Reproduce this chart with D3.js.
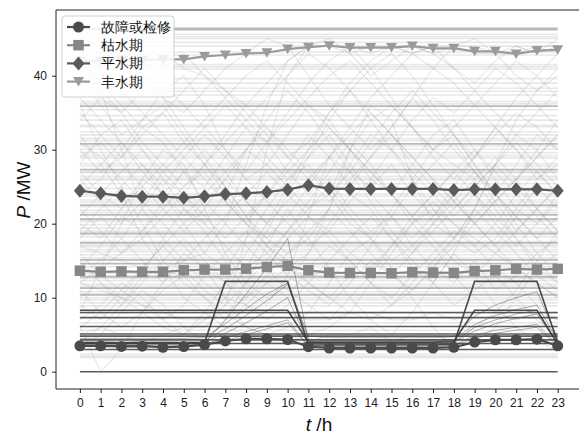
<!DOCTYPE html>
<html>
<head>
<meta charset="utf-8">
<script src="https://cdn.jsdelivr.net/npm/d3@7"></script>
<style>
  html, body { margin: 0; padding: 0; background: #fff; }
  svg { display: block; }
  text { font-family: "Liberation Sans", Arial, sans-serif; }
</style>
</head>
<body>
<svg id="chart" width="579" height="434"></svg>
<script>
// Hours of the day
const hours = d3.range(0, 24);
const xTicks = d3.range(0, 24);
const yTicks = [0, 10, 20, 30, 40];

// Typical daily output curves (MW)
const seriesNames = ["故障或检修", "枯水期", "平水期", "丰水期"];
const faultMean = [3.5, 3.5, 3.42, 3.45, 3.3, 3.4, 3.65, 4.15, 4.45, 4.45, 4.35, 3.38, 3.2, 3.2, 3.2, 3.2, 3.2, 3.2, 3.3, 4.0, 4.3, 4.3, 4.4, 3.5];
const dryMean = [13.65, 13.5, 13.55, 13.5, 13.5, 13.7, 13.8, 13.8, 13.9, 14.15, 14.3, 13.7, 13.4, 13.35, 13.35, 13.3, 13.45, 13.4, 13.35, 13.6, 13.7, 13.9, 13.8, 13.9];
const normalMean = [24.45, 24.1, 23.75, 23.65, 23.65, 23.5, 23.7, 24.0, 24.1, 24.3, 24.6, 25.2, 24.75, 24.7, 24.7, 24.7, 24.7, 24.7, 24.55, 24.65, 24.65, 24.65, 24.65, 24.45];
const wetMean = [42.0, 42.0, 42.1, 42.1, 42.2, 42.2, 42.6, 42.8, 43.0, 43.1, 43.6, 43.85, 44.05, 43.8, 43.8, 43.8, 44.0, 43.7, 43.7, 43.3, 43.3, 42.95, 43.4, 43.5];

// Sample days with constant output (MW), grouped by how many days share the level
const flatStrong = [46.3, 35.9, 30.8, 27.3, 22.5, 21.2, 20.6, 18.7, 17.4, 15.1, 14.6, 12.8, 11.3, 10.4];
const flatLight = [45.6, 45.3, 45.05, 44.5, 44.0, 43.2, 42.8, 41.5, 41.2, 40.9, 39.6, 39.0, 38.3, 37.9, 37.4, 36.5, 36.2, 35.4, 34.6, 34.0, 33.3, 33.1, 32.4, 32.0, 31.5, 31.2, 30.5, 30.1, 29.6, 29.2, 28.9, 28.1, 27.8, 27.0, 26.9, 26.4, 26.1, 25.9, 25.4, 24.8, 24.0, 23.7, 23.2, 22.9, 22.3, 21.8, 21.5, 20.3, 19.9, 19.4, 19.0, 18.5, 18.2, 17.6, 17.1, 16.9, 16.5, 16.2, 15.8, 15.4, 14.2, 13.3, 13.0, 12.6, 12.3, 11.8, 11.5, 10.8, 10.0, 9.7, 9.3, 8.9, 7.9, 6.6, 5.6, 2.4, 2.1, 1.9];

// Sample days with varying output (MW)
const wander = [
  [5, 6, 5, 4, 5, 6, 6, 9, 18, 30, 40, 44, 44, 43, 44, 44, 43, 44, 44, 43, 43, 44, 43, 44],
  [17, 16, 15, 14, 14, 15, 16, 20, 28, 36, 42, 44, 44, 44, 43, 44, 44, 43, 44, 44, 43, 43, 44, 44],
  [44, 38, 30, 22, 18, 15, 12, 10, 9, 8, 8, 7, 7, 8, 8, 7, 7, 8, 7, 8, 8, 7, 8, 8],
  [36, 30, 25, 20, 15, 12, 10, 8, 6, 5, 5, 4, 5, 5, 6, 4, 5, 5, 4, 6, 8, 9, 8, 7],
  [12, 11, 10, 9, 8, 7, 7, 8, 10, 12, 14, 16, 22, 30, 34, 36, 33, 30, 28, 26, 22, 18, 14, 12],
  [28, 32, 34, 30, 26, 22, 20, 24, 30, 28, 25, 22, 24, 30, 36, 34, 26, 20, 18, 22, 28, 32, 30, 26],
  [8, 14, 20, 26, 30, 28, 22, 16, 12, 10, 12, 16, 20, 24, 22, 18, 14, 12, 16, 22, 28, 34, 38, 40],
  [40, 36, 32, 34, 38, 40, 36, 30, 26, 28, 32, 36, 34, 30, 26, 24, 28, 32, 34, 30, 26, 22, 20, 24],
  [20, 18, 22, 26, 24, 20, 16, 14, 18, 22, 26, 28, 24, 20, 18, 22, 26, 30, 32, 28, 24, 26, 30, 34],
  [6, 0, 3, 8, 12, 16, 14, 10, 6, 5, 6, 8, 12, 16, 18, 14, 10, 6, 3, 4, 6, 10, 14, 16],
  [24, 26, 30, 34, 36, 32, 28, 24, 20, 18, 16, 18, 22, 28, 32, 30, 26, 22, 18, 16, 18, 22, 26, 28],
  [32, 28, 24, 18, 14, 10, 8, 6, 5, 4, 4, 5, 6, 8, 12, 16, 20, 22, 20, 18, 16, 14, 12, 10],
  [14, 17, 21, 19, 23, 27, 25, 29, 33, 31, 27, 24, 26, 22, 19, 21, 17, 14, 12, 15, 11, 13, 16, 18],
  [45, 44, 42, 40, 37, 35, 38, 41, 43, 45, 44, 40, 36, 33, 30, 33, 37, 41, 44, 45, 43, 40, 38, 41],
  [10, 12, 9, 13, 18, 22, 19, 15, 11, 9, 13, 21, 29, 27, 23, 19, 16, 20, 24, 20, 17, 21, 25, 22],
  [30, 27, 29, 33, 31, 27, 23, 26, 30, 34, 38, 35, 31, 27, 25, 28, 24, 21, 25, 29, 33, 30, 26, 29],
  [3, 5, 8, 11, 9, 6, 4, 7, 12, 17, 22, 18, 14, 10, 7, 5, 8, 12, 16, 13, 9, 6, 4, 3],
  [38, 41, 44, 42, 39, 36, 33, 30, 27, 31, 35, 39, 42, 44, 41, 37, 33, 29, 26, 29, 33, 37, 40, 43],
  [22, 19, 16, 18, 21, 24, 28, 25, 21, 17, 15, 12, 10, 13, 17, 21, 25, 28, 31, 27, 23, 19, 22, 25],
  [16, 13, 11, 14, 17, 14, 11, 9, 12, 15, 19, 23, 27, 31, 28, 24, 20, 17, 13, 10, 8, 11, 15, 19],
  [42, 39, 36, 33, 35, 31, 28, 32, 36, 33, 29, 31, 35, 38, 34, 30, 34, 37, 35, 38, 41, 39, 36, 33],
  [26, 23, 20, 23, 27, 30, 33, 36, 33, 29, 26, 29, 32, 28, 24, 21, 18, 21, 24, 27, 24, 21, 18, 15],
  [7, 9, 12, 10, 7, 9, 13, 16, 19, 16, 13, 11, 9, 12, 15, 13, 11, 14, 18, 22, 19, 16, 13, 11],
  [34, 37, 35, 31, 28, 25, 27, 23, 20, 24, 28, 32, 29, 25, 29, 33, 37, 34, 30, 27, 24, 28, 32, 30],
  [19, 22, 25, 28, 25, 29, 32, 29, 26, 23, 20, 17, 19, 23, 26, 30, 27, 24, 21, 24, 20, 17, 20, 23],
  [44, 43, 44, 42, 43, 41, 40, 38, 36, 39, 42, 44, 45, 43, 40, 42, 44, 43, 41, 39, 42, 44, 43, 45],
  [11, 8, 6, 8, 11, 13, 10, 7, 9, 12, 10, 14, 17, 15, 12, 10, 13, 16, 19, 17, 14, 12, 9, 7],
  [29, 31, 28, 25, 22, 19, 22, 26, 23, 20, 18, 21, 19, 16, 14, 17, 20, 23, 20, 17, 20, 24, 27, 24],
  [13, 15, 18, 22, 26, 24, 20, 17, 14, 16, 19, 22, 25, 21, 18, 15, 17, 20, 23, 26, 29, 26, 22, 19],
  [37, 34, 31, 27, 24, 21, 24, 27, 30, 33, 30, 27, 24, 27, 31, 35, 38, 35, 32, 29, 32, 35, 33, 30],
  [9, 7, 10, 14, 17, 20, 23, 20, 17, 14, 11, 9, 7, 10, 13, 17, 21, 24, 27, 24, 21, 18, 15, 12],
  [25, 28, 31, 28, 24, 27, 30, 27, 23, 20, 23, 26, 29, 32, 35, 32, 28, 25, 22, 25, 28, 31, 28, 25],
  [41, 38, 35, 38, 41, 43, 40, 37, 34, 31, 34, 37, 40, 42, 39, 36, 33, 30, 33, 36, 39, 42, 40, 37],
  [18, 21, 18, 15, 12, 15, 18, 21, 24, 27, 24, 21, 18, 15, 12, 9, 12, 15, 18, 21, 24, 21, 18, 21],
  [31, 29, 26, 23, 20, 17, 14, 12, 10, 13, 16, 19, 22, 19, 16, 13, 16, 19, 22, 25, 28, 25, 22, 19],
  [4, 6, 9, 12, 15, 18, 15, 12, 9, 7, 9, 12, 15, 18, 21, 18, 15, 12, 9, 11, 13, 10, 7, 5],
  [35, 32, 29, 32, 35, 38, 41, 38, 35, 32, 29, 26, 23, 26, 29, 32, 29, 26, 23, 20, 23, 26, 29, 32],
  [21, 24, 27, 30, 27, 24, 21, 18, 21, 24, 27, 30, 33, 30, 27, 24, 21, 24, 27, 30, 27, 24, 21, 18],
  [44, 41, 38, 35, 32, 29, 26, 23, 20, 17, 14, 12, 10, 8, 7, 9, 11, 14, 17, 20, 23, 26, 29, 32],
  [12, 14, 16, 19, 22, 25, 28, 31, 34, 37, 40, 43, 41, 38, 35, 32, 29, 26, 23, 20, 17, 14, 12, 10],
  [27, 24, 22, 25, 28, 31, 34, 37, 40, 42, 39, 36, 33, 30, 27, 24, 21, 18, 15, 13, 16, 19, 22, 25],
  [15, 12, 10, 8, 6, 5, 7, 10, 14, 19, 24, 29, 34, 38, 41, 43, 40, 36, 32, 28, 24, 20, 16, 13],
  [39, 42, 44, 41, 37, 33, 29, 25, 21, 18, 21, 25, 29, 33, 37, 40, 43, 44, 41, 38, 35, 32, 35, 38],
  [6, 8, 11, 9, 7, 5, 8, 12, 16, 20, 25, 30, 35, 39, 42, 44, 43, 41, 39, 36, 33, 30, 27, 24]
];

// Outage / maintenance days: constant levels, stepped profiles and ramping days (MW)
const faultFlat = [0, 3.0, 3.8, 4.3, 4.8, 5.1, 6.1, 7.3, 8.0];
const faultStepHigh = [3.9, 3.9, 3.9, 3.9, 3.9, 3.9, 3.9, 12.2, 12.2, 12.2, 12.2, 3.6, 3.6, 3.6, 3.6, 3.6, 3.6, 3.6, 3.7, 12.2, 12.2, 12.2, 12.2, 3.9];
const faultStepMid = [8.3, 8.3, 8.3, 8.3, 8.3, 8.3, 8.3, 8.3, 8.3, 8.3, 8.3, 4.0, 4.0, 4.0, 4.0, 4.0, 4.0, 4.0, 4.1, 8.3, 8.3, 8.3, 8.3, 3.7];
const faultCurves = [
  [3.8, 3.8, 3.9, 3.9, 3.8, 3.9, 4.0, 5.2, 6.6, 8.2, 10.0, 3.9, 3.7, 3.7, 3.7, 3.7, 3.7, 3.7, 3.9, 5.5, 6.5, 7.2, 7.8, 3.8],
  [4.1, 4.1, 4.0, 4.1, 4.1, 4.0, 4.2, 5.8, 7.6, 9.6, 11.8, 4.4, 4.2, 4.2, 4.2, 4.2, 4.2, 4.2, 4.3, 6.4, 7.6, 8.4, 9.0, 4.2],
  [3.6, 3.6, 3.6, 3.6, 3.6, 3.6, 3.7, 4.6, 5.4, 6.2, 7.0, 3.5, 3.4, 3.4, 3.4, 3.4, 3.4, 3.4, 3.6, 4.9, 5.6, 6.0, 6.4, 3.6],
  [3.4, 3.4, 3.5, 3.5, 3.4, 3.5, 3.6, 4.2, 5.0, 5.8, 6.6, 3.4, 3.3, 3.3, 3.3, 3.3, 3.3, 3.3, 3.5, 4.5, 5.2, 5.6, 6.0, 3.4],
  [4.5, 4.5, 4.5, 4.5, 4.5, 4.5, 4.6, 6.5, 8.5, 10.5, 12.0, 4.8, 4.6, 4.6, 4.6, 4.6, 4.6, 4.6, 4.7, 7.5, 9.0, 10.0, 10.8, 4.5],
  [3.7, 3.7, 3.7, 3.7, 3.7, 3.7, 3.9, 7.0, 10.5, 14.0, 18.0, 4.2, 3.9, 3.9, 3.9, 3.9, 3.9, 3.9, 4.0, 6.0, 7.0, 7.8, 8.3, 3.9]
];

const W = 579, H = 434;
const svg = d3.select("#chart");

const x = d3.scaleLinear().domain([-1.15, 24.15]).range([56, 581.6]);
const y = d3.scaleLinear().domain([-2.34, 48.88]).range([389, 10]);

const line = d3.line().x((d, i) => x(hours[i])).y(d => y(d));
const flat = v => hours.map(() => v);

const plot = svg.append("g");

// Background sample days
plot.selectAll("path.flat-light").data(flatLight).join("path")
  .attr("class", "flat-light")
  .attr("d", v => line(flat(v)))
  .attr("fill", "none").attr("stroke", "#8c8c8c").attr("stroke-opacity", 0.2).attr("stroke-width", 1.6);

plot.selectAll("path.wander").data(wander).join("path")
  .attr("class", "wander")
  .attr("d", line)
  .attr("fill", "none").attr("stroke", "#8c8c8c").attr("stroke-opacity", 0.2).attr("stroke-width", 1.1);

plot.selectAll("path.flat-strong").data(flatStrong).join("path")
  .attr("class", "flat-strong")
  .attr("d", v => line(flat(v)))
  .attr("fill", "none").attr("stroke", "#8a8a8a").attr("stroke-opacity", 0.6)
  .attr("stroke-width", v => v > 46 ? 3 : 1.8);

// Outage / maintenance days
plot.selectAll("path.fault-curve").data(faultCurves).join("path")
  .attr("class", "fault-curve")
  .attr("d", line)
  .attr("fill", "none").attr("stroke", "#3a3a3a").attr("stroke-opacity", 0.4).attr("stroke-width", 1);

plot.selectAll("path.fault-flat").data(faultFlat).join("path")
  .attr("class", "fault-flat")
  .attr("d", v => line(flat(v)))
  .attr("fill", "none").attr("stroke", "#404040").attr("stroke-opacity", 0.85).attr("stroke-width", 1.6);

plot.selectAll("path.fault-step").data([faultStepHigh, faultStepMid]).join("path")
  .attr("class", "fault-step")
  .attr("d", line)
  .attr("fill", "none").attr("stroke", "#3a3a3a").attr("stroke-opacity", 0.9).attr("stroke-width", 1.6);

// Typical curves with markers
const symbolGen = (type, size) => d3.symbol().type(type).size(size)();
const triDown = "M0,5 L-5.5,-4.5 L5.5,-4.5 Z";
const styles = [
  { name: seriesNames[0], data: faultMean, color: "#4a4a4a", marker: symbolGen(d3.symbolCircle, 95) },
  { name: seriesNames[1], data: dryMean, color: "#878787", marker: symbolGen(d3.symbolSquare, 110) },
  { name: seriesNames[2], data: normalMean, color: "#5a5a5a", marker: "M0,-7 L6,0 L0,7 L-6,0 Z" },
  { name: seriesNames[3], data: wetMean, color: "#9b9b9b", marker: triDown }
];

styles.forEach(s => {
  const g = plot.append("g");
  g.append("path").attr("d", line(s.data))
    .attr("fill", "none").attr("stroke", s.color).attr("stroke-width", 2.2);
  g.selectAll("path.mk").data(s.data).join("path")
    .attr("class", "mk")
    .attr("transform", (d, i) => `translate(${x(hours[i])},${y(d)})`)
    .attr("d", s.marker).attr("fill", s.color);
});

// Frame (left, top, bottom spines)
svg.append("line").attr("x1", 56).attr("x2", 56).attr("y1", 10).attr("y2", 389).attr("stroke", "#222").attr("stroke-width", 1);
svg.append("line").attr("x1", 56).attr("x2", W).attr("y1", 10).attr("y2", 10).attr("stroke", "#222").attr("stroke-width", 1);
svg.append("line").attr("x1", 56).attr("x2", W).attr("y1", 389).attr("y2", 389).attr("stroke", "#222").attr("stroke-width", 1);

// Axes
const xAxis = d3.axisBottom(x).tickValues(xTicks).tickSize(4).tickPadding(5).tickFormat(d3.format("d"));
const gx = svg.append("g").attr("transform", "translate(0,389)").call(xAxis);
gx.select(".domain").remove();
gx.selectAll("line").attr("stroke", "#222");
gx.selectAll("text").attr("font-size", 12).attr("fill", "#222").attr("font-family", "Liberation Sans, Arial, sans-serif");

const yAxis = d3.axisLeft(y).tickValues(yTicks).tickSize(4).tickPadding(5);
const gy = svg.append("g").attr("transform", "translate(56,0)").call(yAxis);
gy.select(".domain").remove();
gy.selectAll("line").attr("stroke", "#222");
gy.selectAll("text").attr("font-size", 12).attr("fill", "#222").attr("font-family", "Liberation Sans, Arial, sans-serif");

// Axis titles
const xt = svg.append("text").attr("x", 319).attr("y", 431).attr("text-anchor", "middle")
  .attr("font-size", 19).attr("fill", "#111");
xt.append("tspan").attr("font-style", "italic").text("t");
xt.append("tspan").text(" /h");

const yt = svg.append("text").attr("transform", "translate(30,190) rotate(-90)").attr("text-anchor", "middle")
  .attr("font-size", 19).attr("fill", "#111");
yt.append("tspan").attr("font-style", "italic").text("P");
yt.append("tspan").text(" /MW");

// Legend
const lg = svg.append("g");
lg.append("rect").attr("x", 62).attr("y", 16).attr("width", 112).attr("height", 81).attr("rx", 3)
  .attr("fill", "#fff").attr("fill-opacity", 0.85).attr("stroke", "#cfcfcf");
styles.forEach((s, i) => {
  const cy = 27 + i * 18.2;
  lg.append("line").attr("x1", 67).attr("x2", 90).attr("y1", cy).attr("y2", cy)
    .attr("stroke", s.color).attr("stroke-width", 2.2);
  lg.append("path").attr("transform", `translate(78.5,${cy})`).attr("d", s.marker).attr("fill", s.color);
  lg.append("text").attr("x", 101).attr("y", cy + 5).attr("font-size", 14)
    .attr("font-family", "Noto Sans CJK SC, sans-serif").attr("fill", "#111").text(s.name);
});
</script>
</body>
</html>
